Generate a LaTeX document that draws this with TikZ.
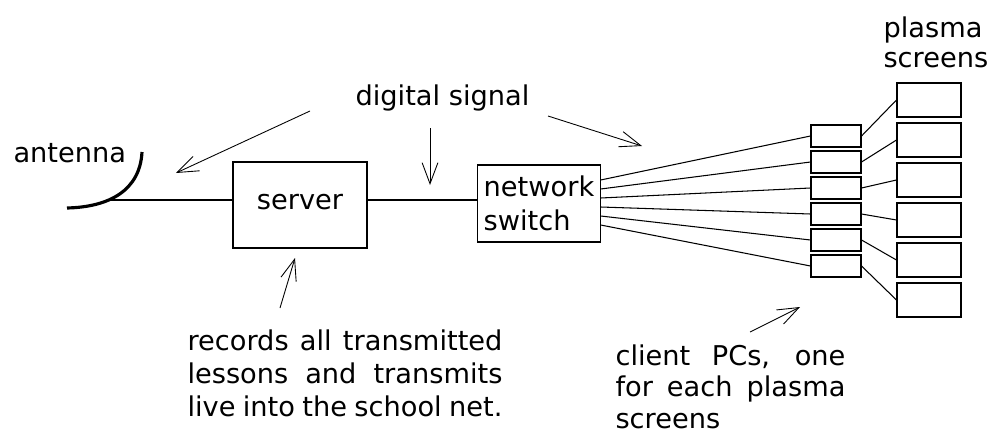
\documentclass[tikz,border=0pt]{standalone}
\usepackage{fontspec}
\setmainfont{DejaVu Sans}
\usetikzlibrary{arrows.meta,calc}

\begin{document}
\begin{tikzpicture}[x=0.02cm, y=-0.02cm, line width=0.6pt,
  font=\fontsize{15.5}{19}\selectfont,
  pointer/.style={-{Straight Barb[length=12pt,width=9pt]}, line width=0.5pt}]
\useasboundingbox (0,0) rectangle (994,443);

% Antenna
\node (antenna_lbl) [anchor=base west, inner sep=0] at (13,162) {antenna};
\draw [line width=1.8pt] (67,208) .. controls (110,207) and (140,190) .. (142,152);
\coordinate (ant) at (110,200);

% Server and switch
\node (server) [rectangle, draw, minimum width=2.68cm, minimum height=1.72cm, text depth=0.4em] at (300,205) {server};
\node (switch) [rectangle, draw, minimum width=2.44cm, minimum height=1.54cm, align=left] at (539,203.5) {network\\switch};
\draw (ant) -- (ant -| server.west);
\draw (ant -| server.east) -- (ant -| switch.west);

% Client PCs and plasma screens
\foreach \i in {1,...,6} {
  \node (pc\i) [rectangle, draw, minimum width=1cm, minimum height=0.44cm] at (836,{110+26*\i}) {};
  \node (scr\i) [rectangle, draw, minimum width=1.28cm, minimum height=0.68cm] at (929,{60+40*\i}) {};
  \draw ($(switch.east)+(0,{9*\i-32.5})$) -- (pc\i.west);
  \draw (pc\i.east) -- (scr\i.west);
}

% Labels
\node (signal) [anchor=base west, inner sep=0] at (355,105) {digital signal};
\node (plasma) [anchor=base west, inner sep=0, text width=2.2cm, align=left,
  font=\fontsize{15.5}{17.6}\selectfont] at (883,37) {plasma\\screens};
\node (records) [anchor=base west, inner sep=0, text width=6.3cm, align=justify] at (187,350)
  {records all transmitted\linebreak lessons and transmits\linebreak live into the school net.};
\node (clients) [anchor=base west, inner sep=0, text width=4.6cm, align=justify,
  font=\fontsize{15.5}{18}\selectfont] at (615,365)
  {client PCs, one\linebreak for each plasma\linebreak screens};

% Pointers
\coordinate (sig_a) at (310,111);
\coordinate (sig_b) at (430,128);
\coordinate (sig_c) at (548,116);
\coordinate (rec_a) at (280,308);
\coordinate (cli_a) at (750,332);
\draw [pointer] (sig_a) -- (176,173);
\draw [pointer] (sig_b) -- (430,185);
\draw [pointer] (sig_c) -- (642,146);
\draw [pointer] (rec_a) -- (295,258);
\draw [pointer] (cli_a) -- (800,307);
\end{tikzpicture}
\end{document}
